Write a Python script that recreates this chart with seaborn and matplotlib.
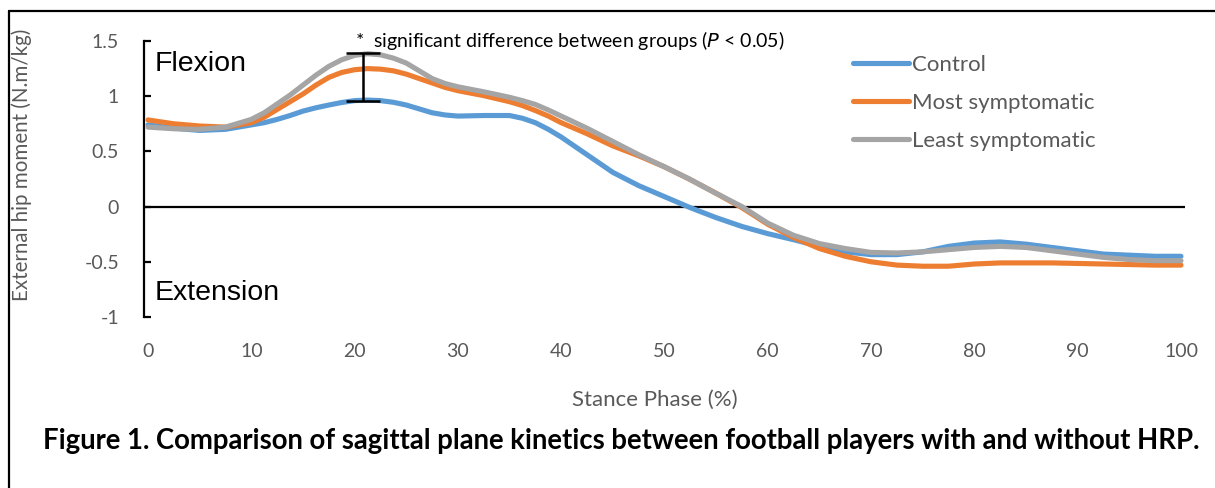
import numpy as np
import pandas as pd
import matplotlib
matplotlib.use("Agg")
import matplotlib.pyplot as plt
from matplotlib.lines import Line2D
import seaborn as sns

stance = [0, 2.5, 5, 7.5, 10, 11.25, 12.5, 13.75, 15, 16.25, 17.5, 18.75, 20, 21.25,
          22.5, 23.75, 25, 26.25, 27.5, 28.75, 30, 32.5, 35, 36.25, 37.5, 38.75, 40,
          41.25, 42.5, 45, 47.5, 50, 52.5, 55, 57.5, 60, 62.5, 65, 67.5, 70, 72.5, 75,
          77.5, 80, 82.5, 85, 87.5, 90, 92.5, 95, 97.5, 100]

control = [0.74, 0.71, 0.69, 0.70, 0.74, 0.76, 0.79, 0.825, 0.865, 0.895, 0.92, 0.943,
           0.96, 0.965, 0.96, 0.945, 0.92, 0.885, 0.85, 0.83, 0.82, 0.825, 0.825, 0.80,
           0.76, 0.70, 0.63, 0.55, 0.47, 0.31, 0.19, 0.09, -0.01, -0.10, -0.18, -0.245,
           -0.30, -0.36, -0.41, -0.435, -0.435, -0.41, -0.36, -0.33, -0.32, -0.34, -0.37,
           -0.40, -0.43, -0.44, -0.45, -0.45]

most_symptomatic = [0.785, 0.75, 0.73, 0.72, 0.76, 0.81, 0.88, 0.95, 1.02, 1.10, 1.17,
                    1.215, 1.24, 1.25, 1.245, 1.23, 1.20, 1.16, 1.12, 1.08, 1.05, 1.005,
                    0.95, 0.915, 0.87, 0.82, 0.76, 0.71, 0.66, 0.55, 0.46, 0.36, 0.245,
                    0.12, -0.01, -0.16, -0.28, -0.38, -0.45, -0.50, -0.53, -0.54, -0.54,
                    -0.52, -0.51, -0.51, -0.51, -0.515, -0.52, -0.525, -0.53, -0.53]

least_symptomatic = [0.72, 0.705, 0.70, 0.72, 0.79, 0.85, 0.93, 1.01, 1.10, 1.19, 1.27,
                     1.33, 1.37, 1.385, 1.375, 1.345, 1.30, 1.23, 1.16, 1.115, 1.085, 1.04,
                     0.99, 0.96, 0.925, 0.875, 0.82, 0.765, 0.71, 0.59, 0.47, 0.36, 0.245,
                     0.12, 0.0, -0.15, -0.26, -0.335, -0.38, -0.415, -0.42, -0.41, -0.39,
                     -0.37, -0.36, -0.37, -0.40, -0.43, -0.46, -0.48, -0.49, -0.49]

groups = ["Control", "Most symptomatic", "Least symptomatic"]
colors = ["#5B9BD5", "#ED7D31", "#A5A5A5"]

sig_x = 20.8
sig_low = 0.96
sig_high = 1.395

xticks = [0, 10, 20, 30, 40, 50, 60, 70, 80, 90, 100]
yticks = [-1, -0.5, 0, 0.5, 1, 1.5]
ytick_labels = ["-1", "-0.5", "0", "0.5", "1", "1.5"]

df = pd.DataFrame({
    "Stance": stance * 3,
    "Moment": control + most_symptomatic + least_symptomatic,
    "Group": [g for g in groups for _ in stance],
})

sns.set_theme(style="white")
plt.rcParams["font.family"] = ["Lato", "DejaVu Sans"]

fig = plt.figure(figsize=(12.15, 4.88), dpi=100)
ax = fig.add_axes([144/1215, 1-317/488, (1185-144)/1215, (317-41)/488])

sns.lineplot(data=df, x="Stance", y="Moment", hue="Group", hue_order=groups,
             palette=colors, linewidth=3.7, ax=ax, legend=False,
             solid_capstyle="round", solid_joinstyle="round", zorder=3)

ax.set_xlim(-0.39, 100.39)
ax.set_ylim(-1, 1.5)
ax.axhline(0, color="black", linewidth=1.6, zorder=2)

for s in ["top", "right", "bottom"]:
    ax.spines[s].set_visible(False)
ax.spines["left"].set_color("black")
ax.spines["left"].set_linewidth(1.6)

ax.set_xticks(xticks)
ax.set_xticklabels([str(t) for t in xticks])
ax.set_yticks(yticks)
ax.set_yticklabels(ytick_labels)
ax.tick_params(axis="x", length=0, pad=19, labelsize=14, labelcolor="#595959")
ax.tick_params(axis="y", direction="in", length=5, width=1.6, color="black",
               pad=18, labelsize=14, labelcolor="#595959", left=True)

ax.set_xlabel("Stance Phase (%)", fontsize=16, color="#595959")
ax.set_ylabel("External hip moment (N.m/kg)", fontsize=14.8, color="#595959")
ax.xaxis.set_label_coords((655-144)/1041, (317-390)/276)
ax.yaxis.set_label_coords((32-144)/1041, (317-165)/276)

# significance error bar
ax.errorbar([sig_x], [(sig_low + sig_high) / 2], yerr=[[(sig_high - sig_low) / 2]],
            fmt="none", ecolor="black", elinewidth=1.8, capsize=12, capthick=1.8, zorder=4)

ax.text(0.6, 1.29, "Flexion", fontsize=20.5, family=["Liberation Sans", "DejaVu Sans"],
        color="black", ha="left", va="center")
ax.text(0.6, -0.785, "Extension", fontsize=20.5, family=["Liberation Sans", "DejaVu Sans"],
        color="black", ha="left", va="center")

fig.text(355/1215, 1-40/488, "*  significant difference between groups ($\\it{P}$ < 0.05)",
         fontsize=14, color="black", ha="left", va="center")

handles = [Line2D([0], [0], color=c, linewidth=3.7, solid_capstyle="round") for c in colors]
fig.legend(handles, groups, loc="upper left", bbox_to_anchor=(853/1215, 1-55/488),
           frameon=False, fontsize=16, handlelength=2.5, handletextpad=0.15,
           labelspacing=0.8, borderpad=0, borderaxespad=0, labelcolor="#595959")

fig.text(621/1215, 1-441/488,
         "Figure 1. Comparison of sagittal plane kinetics between football players with and without HRP.",
         fontsize=19.8, fontweight="bold", color="black", ha="center", va="center")

# outer frame (top and left visible)
fig.add_artist(Line2D([9/1215, 9/1215], [0, 1-11/488], transform=fig.transFigure,
                      color="black", linewidth=1.6))
fig.add_artist(Line2D([9/1215, 1], [1-11/488, 1-11/488], transform=fig.transFigure,
                      color="black", linewidth=1.6))

fig.savefig("out.png", dpi=100)
